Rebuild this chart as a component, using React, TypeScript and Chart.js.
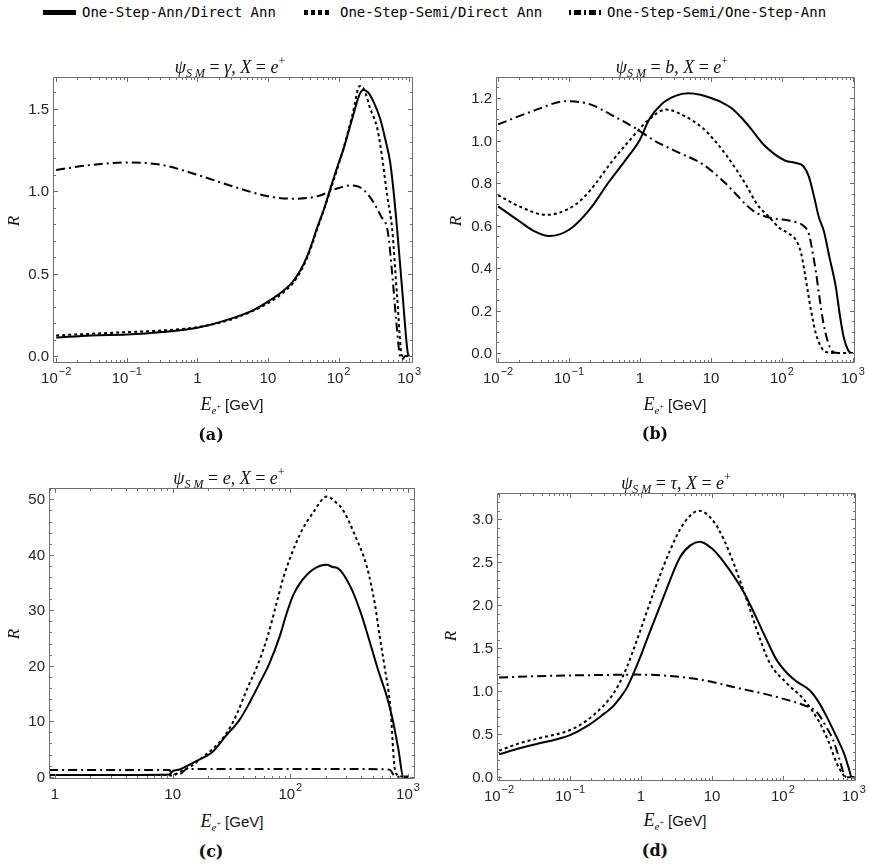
import React, { useEffect, useRef } from "react";
import { Chart, registerables } from "chart.js";

Chart.register(...registerables);

// ---------------- DATA (log10 of E in GeV, and ratio R) ----------------
// Panel (a): psi_SM = gamma
const aAnnLogE = [-2.0, -1.5, -1.0, -0.5, 0.0, 0.5, 0.8, 1.0, 1.2, 1.35, 1.46, 1.55, 1.62, 1.69, 1.8, 1.88, 2.0, 2.07, 2.2, 2.3, 2.35, 2.42, 2.5, 2.59, 2.66, 2.73, 2.78, 2.83, 2.91, 2.98, 3.0];
const aAnnR = [0.112, 0.125, 0.13, 0.145, 0.172, 0.23, 0.28, 0.33, 0.39, 0.45, 0.52, 0.6, 0.68, 0.77, 0.9, 1.01, 1.17, 1.256, 1.45, 1.59, 1.615, 1.6, 1.54, 1.44, 1.32, 1.18, 1.0, 0.77, 0.36, 0.02, 0.0];
const aSemiDirLogE = [-2.0, -1.5, -1.0, -0.5, 0.0, 0.5, 1.0, 1.2, 1.35, 1.46, 1.55, 1.62, 1.69, 1.88, 2.07, 2.2, 2.3, 2.36, 2.45, 2.55, 2.62, 2.69, 2.76, 2.83, 2.9, 3.0];
const aSemiDirR = [0.125, 0.135, 0.145, 0.155, 0.175, 0.225, 0.32, 0.38, 0.44, 0.51, 0.59, 0.67, 0.76, 1.0, 1.26, 1.47, 1.64, 1.62, 1.5, 1.38, 1.2, 0.97, 0.77, 0.36, 0.0, 0.0];
const aSemiAnnLogE = [-2.0, -1.5, -1.0, -0.5, 0.0, 0.5, 1.0, 1.36, 1.7, 2.0, 2.16, 2.3, 2.4, 2.5, 2.6, 2.7, 2.76, 2.82, 2.87, 2.9, 2.95, 3.0];
const aSemiAnnR = [1.13, 1.16, 1.175, 1.16, 1.1, 1.03, 0.97, 0.955, 0.97, 1.02, 1.035, 1.025, 0.99, 0.93, 0.85, 0.75, 0.5, 0.2, 0.0, -0.02, 0.0, 0.0];

// Panel (b): psi_SM = b
const bAnnLogE = [-2.0, -1.7, -1.5, -1.28, -1.0, -0.7, -0.45, -0.2, 0.0, 0.13, 0.3, 0.5, 0.68, 0.85, 1.0, 1.15, 1.3, 1.45, 1.6, 1.73, 1.9, 2.05, 2.2, 2.3, 2.38, 2.45, 2.52, 2.59, 2.67, 2.76, 2.82, 2.87, 2.93, 2.98, 3.0];
const bAnnR = [0.69, 0.62, 0.575, 0.551, 0.58, 0.68, 0.8, 0.91, 1.005, 1.1, 1.17, 1.21, 1.222, 1.215, 1.2, 1.18, 1.15, 1.1, 1.04, 0.985, 0.935, 0.905, 0.894, 0.88, 0.83, 0.74, 0.64, 0.575, 0.45, 0.31, 0.17, 0.075, 0.015, 0.0, 0.0];
const bSemiDirLogE = [-2.0, -1.7, -1.32, -1.0, -0.8, -0.62, -0.4, -0.15, 0.13, 0.37, 0.6, 0.89, 1.05, 1.21, 1.49, 1.65, 1.82, 1.96, 2.08, 2.2, 2.27, 2.31, 2.36, 2.41, 2.48, 2.55, 2.62, 2.75, 3.0];
const bSemiDirR = [0.743, 0.69, 0.65, 0.68, 0.73, 0.8, 0.9, 1.0, 1.1, 1.146, 1.12, 1.057, 1.0, 0.934, 0.794, 0.7, 0.64, 0.59, 0.565, 0.53, 0.47, 0.4, 0.3, 0.2, 0.09, 0.03, 0.005, 0.0, 0.0];
const bSemiAnnLogE = [-2.0, -1.5, -1.04, -0.7, -0.4, -0.06, 0.2, 0.5, 0.89, 1.2, 1.6, 1.85, 2.06, 2.2, 2.3, 2.38, 2.44, 2.48, 2.53, 2.58, 2.65, 2.72, 2.8, 3.0];
const bSemiAnnR = [1.076, 1.14, 1.185, 1.17, 1.12, 1.057, 1.0, 0.95, 0.887, 0.8, 0.668, 0.635, 0.626, 0.615, 0.6, 0.56, 0.46, 0.38, 0.26, 0.15, 0.05, 0.005, 0.0, 0.0];

// Panel (c): psi_SM = e
const cAnnLogE = [-0.05, 0.5, 0.9, 0.97, 1.0, 1.06, 1.12, 1.2, 1.34, 1.45, 1.57, 1.65, 1.74, 1.82, 1.91, 1.97, 2.02, 2.08, 2.19, 2.31, 2.36, 2.41, 2.51, 2.6, 2.67, 2.75, 2.82, 2.87, 2.92, 2.96, 3.0];
const cAnnR = [0.3, 0.3, 0.35, 0.4, 1.0, 1.3, 1.9, 2.8, 4.5, 7.3, 10.3, 13.2, 16.9, 20.3, 25.3, 29.5, 32.5, 34.8, 37.3, 38.2, 37.8, 37.5, 34.3, 29.5, 24.7, 19.0, 14.5, 10.3, 4.8, 0.0, 0.0];
const cSemiDirLogE = [-0.05, 0.5, 0.95, 1.0, 1.06, 1.15, 1.23, 1.35, 1.46, 1.55, 1.63, 1.72, 1.81, 1.88, 1.94, 2.08, 2.2, 2.31, 2.38, 2.45, 2.55, 2.65, 2.72, 2.76, 2.8, 2.85, 2.89, 2.93, 3.0];
const cSemiDirR = [0.3, 0.3, 0.3, 0.2, 0.9, 1.8, 3.1, 5.2, 7.9, 11.5, 15.7, 20.0, 25.5, 31.0, 35.8, 43.6, 47.8, 50.5, 49.6, 48.0, 43.5, 37.9, 31.0, 25.3, 20.0, 12.7, 1.2, 0.1, 0.0];
const cSemiAnnLogE = [-0.05, 0.5, 0.97, 1.0, 1.06, 1.12, 1.3, 2.0, 2.5, 2.8, 2.85, 2.88, 2.92, 3.0];
const cSemiAnnR = [1.2, 1.2, 1.2, 0.5, 0.5, 1.4, 1.4, 1.4, 1.4, 1.35, 1.2, 0.3, 0.0, 0.0];

// Panel (d): psi_SM = tau
const dAnnLogE = [-2.0, -1.7, -1.46, -1.2, -1.0, -0.75, -0.52, -0.4, -0.3, -0.2, -0.1, 0.0, 0.1, 0.3, 0.55, 0.7, 0.83, 1.0, 1.17, 1.45, 1.77, 1.9, 2.06, 2.2, 2.38, 2.5, 2.62, 2.75, 2.86, 2.93, 2.97, 3.0];
const dAnnR = [0.267, 0.34, 0.39, 0.44, 0.49, 0.6, 0.74, 0.82, 0.92, 1.04, 1.22, 1.42, 1.64, 2.06, 2.56, 2.7, 2.74, 2.66, 2.5, 2.15, 1.6, 1.38, 1.21, 1.11, 1.01, 0.88, 0.7, 0.48, 0.28, 0.1, 0.0, 0.0];
const dSemiDirLogE = [-2.0, -1.7, -1.46, -1.0, -0.75, -0.52, -0.4, -0.3, -0.2, -0.06, 0.2, 0.41, 0.6, 0.82, 1.0, 1.17, 1.45, 1.68, 1.82, 2.06, 2.3, 2.52, 2.65, 2.76, 2.85, 2.88, 3.0];
const dSemiDirR = [0.31, 0.4, 0.45, 0.55, 0.67, 0.84, 0.96, 1.1, 1.28, 1.59, 2.2, 2.64, 2.95, 3.1, 3.0, 2.76, 2.16, 1.6, 1.32, 1.09, 0.9, 0.63, 0.4, 0.16, 0.03, 0.0, 0.0];
const dSemiAnnLogE = [-2.0, -1.5, -1.0, -0.5, -0.06, 0.3, 0.89, 1.3, 1.82, 2.3, 2.45, 2.53, 2.6, 2.71, 2.8, 2.86, 2.9, 3.0];
const dSemiAnnR = [1.16, 1.175, 1.185, 1.19, 1.194, 1.185, 1.128, 1.05, 0.953, 0.837, 0.78, 0.7, 0.6, 0.43, 0.2, 0.04, 0.0, 0.0];

// Tick values and labels
const xTicksWide = [0.01, 0.1, 1, 10, 100, 1000];
const xLabelsWide: [string, string][] = [["10", "\u22122"], ["10", "\u22121"], ["1", ""], ["10", ""], ["10", "2"], ["10", "3"]];
const xTicksC = [1, 10, 100, 1000];
const xLabelsC: [string, string][] = [["1", ""], ["10", ""], ["10", "2"], ["10", "3"]];
const yTicksA = [0, 0.5, 1.0, 1.5];
const yTicksB = [0, 0.2, 0.4, 0.6, 0.8, 1.0, 1.2];
const yTicksC = [0, 10, 20, 30, 40, 50];
const yTicksD = [0, 0.5, 1.0, 1.5, 2.0, 2.5, 3.0];

const legendLabels = ["One-Step-Ann/Direct Ann", "One-Step-Semi/Direct Ann", "One-Step-Semi/One-Step-Ann"];
const panelTitles = ["\u03b3", "b", "e", "\u03c4"];
const captions = ["(a)", "(b)", "(c)", "(d)"];

// ---------------- STYLES / LAYOUT ----------------
const DASHES: number[][] = [[], [3, 3], [9, 4, 2, 4]];
const MAJ = 5;
const MIN = 3;
const SANS = '"Liberation Sans", Arial, sans-serif';
const SERIF = '"Liberation Serif", "Times New Roman", serif';

type Series = { logE: number[]; r: number[] };
type PanelCfg = {
  canvas: { x: number; y: number; w: number; h: number };
  pad: { left: number; top: number; right: number; bottom: number };
  xMinExp: number;
  xMaxExp: number;
  yMin: number;
  yMax: number;
  yTicks: number[];
  yMinorStep: number;
  yDigits: number;
  xTicks: number[];
  xLabels: [string, string][];
  series: Series[];
};

const panels: PanelCfg[] = [
  {
    canvas: { x: 0, y: 40, w: 435, h: 360 },
    pad: { left: 53, top: 37, right: 22, bottom: 37 },
    xMinExp: -2.045, xMaxExp: 3.055, yMin: -0.0425, yMax: 1.694,
    yTicks: yTicksA, yMinorStep: 0.1, yDigits: 1,
    xTicks: xTicksWide, xLabels: xLabelsWide,
    series: [
      { logE: aAnnLogE, r: aAnnR },
      { logE: aSemiDirLogE, r: aSemiDirR },
      { logE: aSemiAnnLogE, r: aSemiAnnR },
    ],
  },
  {
    canvas: { x: 435, y: 40, w: 434, h: 360 },
    pad: { left: 61, top: 37, right: 14, bottom: 37 },
    xMinExp: -2.03, xMaxExp: 3.03, yMin: -0.047, yMax: 1.299,
    yTicks: yTicksB, yMinorStep: 0.05, yDigits: 1,
    xTicks: xTicksWide, xLabels: xLabelsWide,
    series: [
      { logE: bAnnLogE, r: bAnnR },
      { logE: bSemiDirLogE, r: bSemiDirR },
      { logE: bSemiAnnLogE, r: bSemiAnnR },
    ],
  },
  {
    canvas: { x: 0, y: 455, w: 435, h: 355 },
    pad: { left: 49, top: 33, right: 20, bottom: 31 },
    xMinExp: -0.051, xMaxExp: 3.06, yMin: -0.41, yMax: 52.04,
    yTicks: yTicksC, yMinorStep: 2, yDigits: 0,
    xTicks: xTicksC, xLabels: xLabelsC,
    series: [
      { logE: cAnnLogE, r: cAnnR },
      { logE: cSemiDirLogE, r: cSemiDirR },
      { logE: cSemiAnnLogE, r: cSemiAnnR },
    ],
  },
  {
    canvas: { x: 435, y: 455, w: 434, h: 355 },
    pad: { left: 62, top: 38, right: 13, bottom: 29 },
    xMinExp: -2.03, xMaxExp: 3.03, yMin: -0.043, yMax: 3.306,
    yTicks: yTicksD, yMinorStep: 0.1, yDigits: 1,
    xTicks: xTicksWide, xLabels: xLabelsWide,
    series: [
      { logE: dAnnLogE, r: dAnnR },
      { logE: dSemiDirLogE, r: dSemiDirR },
      { logE: dSemiAnnLogE, r: dSemiAnnR },
    ],
  },
];

// text positions (page coordinates, centres)
const titlePos = [[230, 67], [672, 67], [229, 478], [676, 483]];
const xTitlePos = [[232, 404], [675, 404], [232, 821], [675, 820]];
const captionPos = [[211, 435], [655, 434], [211, 852], [655, 851]];
const rPos = [[13, 221], [455, 221], [13, 634], [450, 636]];

// ---------------- PLUGIN: Mathematica-like frame ----------------
const framePlugin = {
  id: "mmaFrame",
  afterDatasetsDraw(chart: any, _args: any, opts: any) {
    const p: PanelCfg = opts.panel;
    if (!p) return;
    const { ctx, chartArea } = chart;
    const { left, right, top, bottom } = chartArea;
    const xs = chart.scales.x;
    const ys = chart.scales.y;
    ctx.save();
    ctx.strokeStyle = "#6e6e6e";
    ctx.lineWidth = 1;
    ctx.setLineDash([]);
    ctx.beginPath();
    ctx.rect(left + 0.5, top + 0.5, right - left - 1, bottom - top - 1);
    ctx.stroke();

    ctx.beginPath();
    const seg = (x1: number, y1: number, x2: number, y2: number) => {
      ctx.moveTo(x1, y1);
      ctx.lineTo(x2, y2);
    };
    const xTick = (v: number, len: number) => {
      const px = Math.round(xs.getPixelForValue(v)) + 0.5;
      seg(px, bottom, px, bottom - len);
      seg(px, top, px, top + len);
    };
    const yTick = (v: number, len: number) => {
      const py = Math.round(ys.getPixelForValue(v)) + 0.5;
      seg(left, py, left + len, py);
      seg(right, py, right - len, py);
    };
    const xmin = Math.pow(10, p.xMinExp);
    const xmax = Math.pow(10, p.xMaxExp);
    p.xTicks.forEach((v) => xTick(v, MAJ));
    for (let d = Math.floor(p.xMinExp); d <= Math.ceil(p.xMaxExp); d++) {
      for (let k = 2; k <= 9; k++) {
        const v = k * Math.pow(10, d);
        if (v < xmin || v > xmax) continue;
        xTick(v, MIN);
      }
    }
    p.yTicks.forEach((v) => yTick(v, MAJ));
    const i0 = Math.ceil(p.yMin / p.yMinorStep - 1e-9);
    const i1 = Math.floor(p.yMax / p.yMinorStep + 1e-9);
    for (let i = i0; i <= i1; i++) {
      const v = i * p.yMinorStep;
      if (p.yTicks.some((t) => Math.abs(t - v) < 1e-6)) continue;
      yTick(v, MIN);
    }
    ctx.stroke();

    // tick labels
    ctx.fillStyle = "#262626";
    ctx.textAlign = "left";
    ctx.textBaseline = "alphabetic";
    p.xTicks.forEach((v, i) => {
      const [base, sup] = p.xLabels[i];
      ctx.font = `15px ${SANS}`;
      const wb = ctx.measureText(base).width;
      ctx.font = `11px ${SANS}`;
      const ws = sup ? ctx.measureText(sup).width + 1 : 0;
      const px = xs.getPixelForValue(v);
      const x0 = px - (wb + ws) / 2;
      ctx.font = `15px ${SANS}`;
      ctx.fillText(base, x0, bottom + 20);
      if (sup) {
        ctx.font = `11px ${SANS}`;
        ctx.fillText(sup, x0 + wb + 1, bottom + 12);
      }
    });
    ctx.font = `15px ${SANS}`;
    ctx.textAlign = "right";
    ctx.textBaseline = "middle";
    p.yTicks.forEach((v) => {
      ctx.fillText(v.toFixed(p.yDigits), left - 4, ys.getPixelForValue(v) + 1);
    });
    ctx.restore();
  },
};

function Panel({ p }: { p: PanelCfg }) {
  const ref = useRef<HTMLCanvasElement>(null);
  useEffect(() => {
    if (!ref.current) return;
    const chart = new Chart(ref.current, {
      type: "line",
      data: {
        datasets: p.series.map((s, i) => ({
          label: legendLabels[i],
          data: s.logE.map((l, j) => ({ x: Math.pow(10, l), y: s.r[j] })),
          borderColor: "#000",
          borderWidth: 2,
          borderDash: DASHES[i],
          borderCapStyle: "butt",
          borderJoinStyle: "round",
          pointRadius: 0,
          fill: false,
          cubicInterpolationMode: "monotone",
        })),
      },
      options: {
        animation: false,
        responsive: false,
        maintainAspectRatio: false,
        events: [],
        layout: { padding: p.pad },
        plugins: {
          legend: { display: false },
          tooltip: { enabled: false },
          title: { display: false },
          mmaFrame: { panel: p },
        } as any,
        scales: {
          x: { type: "logarithmic", min: Math.pow(10, p.xMinExp), max: Math.pow(10, p.xMaxExp), display: false },
          y: { type: "linear", min: p.yMin, max: p.yMax, display: false },
        },
      },
      plugins: [framePlugin as any],
    } as any);
    return () => chart.destroy();
  }, [p]);
  return (
    <canvas
      ref={ref}
      width={p.canvas.w}
      height={p.canvas.h}
      style={{ position: "absolute", left: p.canvas.x, top: p.canvas.y, width: p.canvas.w, height: p.canvas.h }}
    />
  );
}

const centered = (x: number, y: number): React.CSSProperties => ({
  position: "absolute",
  left: x,
  top: y,
  transform: "translate(-50%, -50%)",
  whiteSpace: "nowrap",
  lineHeight: 1,
  color: "#111",
});

function Title({ sym, x, y }: { sym: string; x: number; y: number }) {
  return (
    <div style={{ ...centered(x, y), fontFamily: SERIF, fontSize: 18 }}>
      <i>ψ</i>
      <i style={{ fontSize: 12, position: "relative", top: 4 }}>S M</i>
      <span> = </span>
      <i>{sym}</i>
      <span>, </span>
      <i>X</i>
      <span> = </span>
      <i>e</i>
      <span style={{ fontSize: 12, position: "relative", top: -8 }}>+</span>
    </div>
  );
}

function XTitle({ x, y }: { x: number; y: number }) {
  return (
    <div style={{ ...centered(x, y) }}>
      <i style={{ fontFamily: SERIF, fontSize: 18 }}>E</i>
      <i style={{ fontFamily: SERIF, fontSize: 11, position: "relative", top: 4 }}>e</i>
      <span style={{ fontFamily: SERIF, fontSize: 8, position: "relative", top: -1 }}>+</span>
      <span style={{ fontFamily: SANS, fontSize: 15 }}> [GeV]</span>
    </div>
  );
}

export default function App() {
  const legendText: React.CSSProperties = {
    position: "absolute",
    top: 4,
    fontFamily: '"DejaVu Sans Mono", monospace',
    fontSize: 14,
    lineHeight: "16px",
    color: "#000",
    whiteSpace: "nowrap",
  };
  return (
    <div style={{ position: "absolute", left: 0, top: 0, width: 869, height: 866, background: "#fff", overflow: "hidden" }}>
      {/* legend */}
      <div style={{ position: "absolute", left: 43, top: 10, width: 33, height: 5, background: "#000" }} />
      <div style={{ ...legendText, left: 82 }}>{legendLabels[0]}</div>
      <div
        style={{
          position: "absolute", left: 304, top: 10, width: 25, height: 5,
          background: "repeating-linear-gradient(to right, #000 0px, #000 4px, transparent 4px, transparent 7px)",
        }}
      />
      <div style={{ ...legendText, left: 340 }}>{legendLabels[1]}</div>
      <div
        style={{
          position: "absolute", left: 569, top: 10, width: 32, height: 5,
          background:
            "repeating-linear-gradient(to right, #000 0px, #000 2px, transparent 2px, transparent 5px, #000 5px, #000 12px, transparent 12px, transparent 15px)",
        }}
      />
      <div style={{ ...legendText, left: 607 }}>{legendLabels[2]}</div>

      {panels.map((p, i) => (
        <Panel key={i} p={p} />
      ))}

      {panelTitles.map((s, i) => (
        <Title key={"t" + i} sym={s} x={titlePos[i][0]} y={titlePos[i][1]} />
      ))}
      {xTitlePos.map((pos, i) => (
        <XTitle key={"x" + i} x={pos[0]} y={pos[1]} />
      ))}
      {rPos.map((pos, i) => (
        <div
          key={"r" + i}
          style={{
            ...centered(pos[0], pos[1]),
            transform: "translate(-50%, -50%) rotate(-90deg)",
            fontFamily: SERIF,
            fontStyle: "italic",
            fontSize: 17,
          }}
        >
          R
        </div>
      ))}
      {captions.map((c, i) => (
        <div
          key={"c" + i}
          style={{ ...centered(captionPos[i][0], captionPos[i][1]), fontFamily: '"DejaVu Serif", serif', fontWeight: "bold", fontSize: 16 }}
        >
          {c}
        </div>
      ))}
    </div>
  );
}
